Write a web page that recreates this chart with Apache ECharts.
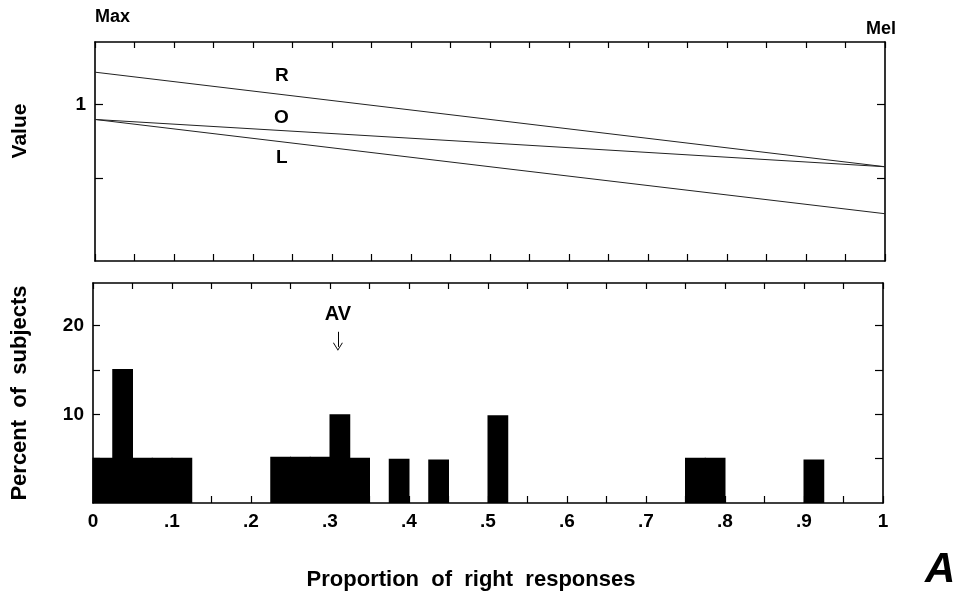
<!DOCTYPE html>
<html>
<head>
<meta charset="utf-8">
<script src="https://cdn.jsdelivr.net/npm/echarts@6/dist/echarts.min.js"></script>
<style>
html,body{margin:0;padding:0;background:#fff;}
#c{width:961px;height:598px;}
</style>
</head>
<body>
<div id="c"></div>
<script>
// ---- Data ----
// Top panel: value lines against proportion of right responses
const lineX   = [0, 0.5, 1];
const rValues = [1.108, 0.949, 0.790];
const oValues = [0.949, 0.870, 0.790];
const lValues = [0.949, 0.790, 0.632];
const valueTickValues  = [0.75, 1];
const valueLabelValues = [1];

// Bottom panel: histogram, percent of subjects per bin
const binStart = [0, 0.025, 0.05, 0.075, 0.1, 0.225, 0.25, 0.275, 0.3, 0.325, 0.375, 0.425, 0.5, 0.75, 0.775, 0.9];
const binEnd   = [0.025, 0.05, 0.075, 0.1, 0.125, 0.25, 0.275, 0.3, 0.325, 0.35, 0.4, 0.45, 0.525, 0.775, 0.8, 0.925];
const percent  = [5.1, 15.1, 5.1, 5.1, 5.1, 5.2, 5.2, 5.2, 10, 5.1, 5, 4.9, 9.9, 5.1, 5.1, 4.9];
const percentTickValues  = [5, 10, 15, 20];
const percentLabelValues = [10, 20];
const avValue  = 0.31;

const FONT = '"Liberation Sans", Arial, Helvetica, sans-serif';

const chart = echarts.init(document.getElementById('c'), null, {renderer: 'canvas'});

const frameLine = {show: true, onZero: false, lineStyle: {color: '#000', width: 1.6}};
const labelStyle = {color: '#000', fontWeight: 'bold', fontSize: 19, fontFamily: FONT};
const nameStyle = {color: '#000', fontWeight: 'bold', fontSize: 22, fontFamily: FONT};
const tickStyle = {color: '#000', width: 1.2};

function xLabelFmt(v) {
  const k = Math.round(v * 100);
  if (k % 10 !== 0) return '';
  if (k === 0) return '0';
  if (k === 100) return '1';
  return '.' + (k / 10);
}

const histData = binStart.map((s, i) => [s, binEnd[i], percent[i]]);

const option = {
  animation: false,
  backgroundColor: '#fff',
  grid: [
    {left: 95, right: 76, top: 42, height: 219},
    {left: 93, right: 78, top: 283, height: 220}
  ],
  xAxis: [
    {gridIndex: 0, type: 'value', min: 0, max: 1, interval: 0.05, position: 'bottom',
      axisLine: frameLine, axisTick: {inside: true, length: 7, lineStyle: tickStyle},
      axisLabel: {show: false}, splitLine: {show: false}},
    {gridIndex: 0, type: 'value', min: 0, max: 1, interval: 0.05, position: 'top',
      axisLine: frameLine, axisTick: {inside: true, length: 6, lineStyle: tickStyle},
      axisLabel: {show: false}, splitLine: {show: false}},
    {gridIndex: 1, type: 'value', min: 0, max: 1, interval: 0.05, position: 'bottom',
      axisLine: frameLine, axisTick: {inside: true, length: 7, lineStyle: tickStyle},
      axisLabel: Object.assign({margin: 9, formatter: xLabelFmt}, labelStyle),
      splitLine: {show: false},
      name: 'Proportion  of  right  responses', nameLocation: 'middle', nameGap: 66,
      nameTextStyle: Object.assign({padding: [0, 34, 0, 0]}, nameStyle)},
    {gridIndex: 1, type: 'value', min: 0, max: 1, interval: 0.05, position: 'top',
      axisLine: frameLine, axisTick: {inside: true, length: 6, lineStyle: tickStyle},
      axisLabel: {show: false}, splitLine: {show: false}}
  ],
  yAxis: [
    {gridIndex: 0, type: 'value', min: 0.473, max: 1.2095, position: 'left',
      axisLine: frameLine,
      axisTick: {show: true, inside: true, length: 8, customValues: valueTickValues, lineStyle: tickStyle},
      axisLabel: Object.assign({margin: 9, customValues: valueLabelValues}, labelStyle),
      splitLine: {show: false}},
    {gridIndex: 0, type: 'value', min: 0.473, max: 1.2095, position: 'right',
      axisLine: frameLine,
      axisTick: {show: true, inside: true, length: 8, customValues: valueTickValues, lineStyle: tickStyle},
      axisLabel: {show: false}, splitLine: {show: false}},
    {gridIndex: 1, type: 'value', min: 0, max: 24.8, position: 'left',
      axisLine: frameLine,
      axisTick: {inside: true, length: 7, customValues: percentTickValues, lineStyle: tickStyle},
      axisLabel: Object.assign({margin: 9, customValues: percentLabelValues}, labelStyle),
      splitLine: {show: false},
      name: 'Percent  of  subjects', nameLocation: 'middle', nameGap: 62, nameRotate: 90,
      nameTextStyle: nameStyle},
    {gridIndex: 1, type: 'value', min: 0, max: 24.8, position: 'right',
      axisLine: frameLine,
      axisTick: {inside: true, length: 8, customValues: percentTickValues, lineStyle: tickStyle},
      axisLabel: {show: false}, splitLine: {show: false}}
  ],
  series: [
    {name: 'R', type: 'line', xAxisIndex: 0, yAxisIndex: 0, symbol: 'none',
      data: lineX.map((x, i) => [x, rValues[i]]), lineStyle: {color: '#222', width: 1}},
    {name: 'O', type: 'line', xAxisIndex: 0, yAxisIndex: 0, symbol: 'none',
      data: lineX.map((x, i) => [x, oValues[i]]), lineStyle: {color: '#222', width: 1}},
    {name: 'L', type: 'line', xAxisIndex: 0, yAxisIndex: 0, symbol: 'none',
      data: lineX.map((x, i) => [x, lValues[i]]), lineStyle: {color: '#222', width: 1}},
    {name: 'hist', type: 'custom', xAxisIndex: 2, yAxisIndex: 2,
      data: histData, encode: {x: [0, 1], y: 2},
      renderItem: function (params, api) {
        const p0 = api.coord([api.value(0), api.value(2)]);
        const p1 = api.coord([api.value(1), 0]);
        // overlap by 1px so adjacent bins merge into one block
        return {type: 'rect',
          shape: {x: p0[0] - 0.5, y: p0[1], width: p1[0] - p0[0] + 1, height: p1[1] - p0[1]},
          style: {fill: '#000'}};
      },
      markLine: {
        silent: true, symbol: ['none', 'path://M0,10L5,0L10,10L9,10L5,2L1,10Z'], symbolSize: [10, 8],
        lineStyle: {color: '#000', width: 1, type: 'solid'},
        label: {show: false},
        data: [[{coord: [avValue, 19.3]}, {coord: [avValue, 17.6]}]]
      },
      markPoint: {
        silent: true, symbol: 'circle', symbolSize: 0,
        label: {show: true, formatter: 'AV', color: '#000', fontWeight: 'bold', fontSize: 20, fontFamily: FONT, position: 'inside'},
        data: [{coord: [avValue, 21.2]}]
      }
    }
  ],
  graphic: [
    {type: 'text', x: 20, y: 131, rotation: Math.PI / 2,
      style: {text: 'Value', fill: '#000', font: 'bold 21px ' + FONT, align: 'center', verticalAlign: 'middle'}},
    {type: 'text', left: 95, top: 8, style: {text: 'Max', fill: '#000', font: 'bold 18px ' + FONT}},
    {type: 'text', left: 866, top: 20, style: {text: 'Mel', fill: '#000', font: 'bold 18px ' + FONT}},
    {type: 'text', left: 275, top: 66, style: {text: 'R', fill: '#000', font: 'bold 19px ' + FONT}},
    {type: 'text', left: 274, top: 108, style: {text: 'O', fill: '#000', font: 'bold 19px ' + FONT}},
    {type: 'text', left: 276, top: 148, style: {text: 'L', fill: '#000', font: 'bold 19px ' + FONT}},
    {type: 'text', left: 925, top: 549, style: {text: 'A', fill: '#000', font: 'italic bold 42px ' + FONT}}
  ]
};
chart.setOption(option);
</script>
</body>
</html>
